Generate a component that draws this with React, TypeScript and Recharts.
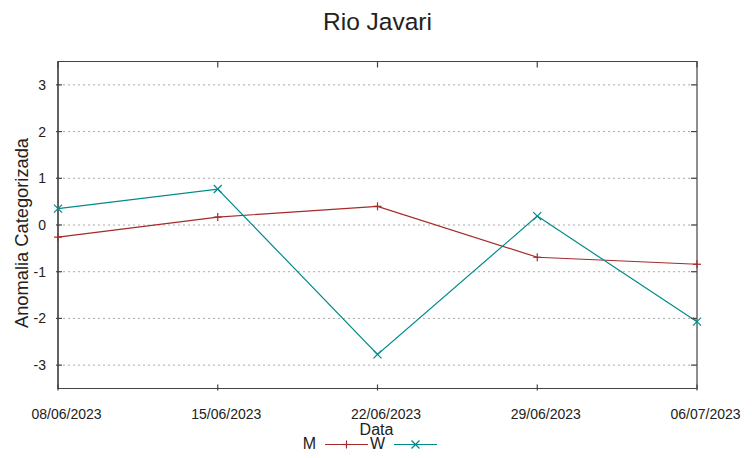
import { CartesianGrid, Line, LineChart, ReferenceArea, XAxis, YAxis } from "recharts";

const dates = ["08/06/2023", "15/06/2023", "22/06/2023", "29/06/2023", "06/07/2023"];
const mValues = [-0.26, 0.17, 0.4, -0.69, -0.84];
const wValues = [0.35, 0.77, -2.77, 0.19, -2.07];
const yTicks = [-3, -2, -1, 0, 1, 2, 3];
const yDomain = [-3.5, 3.5];

const RED = "#a52a2a";
const TEAL = "#008b8b";
const FRAME = "#444444";
const FONT = "'Liberation Sans', Arial, sans-serif";

const CHART_W = 752;
const CHART_H = 458;
const MARGIN = { top: 61.5, right: 55, bottom: 39.5, left: 0 };
const PLOT_TOP = MARGIN.top;
const PLOT_RIGHT = CHART_W - MARGIN.right;

const data = dates.map((d, i) => ({ date: d, M: mValues[i], W: wValues[i] }));

const PlusDot = (props: any) => {
  const { cx, cy } = props;
  if (cx == null || cy == null) return null;
  return (
    <g>
      <line x1={cx - 4} y1={cy} x2={cx + 4} y2={cy} stroke={RED} strokeWidth={1.2} />
      <line x1={cx} y1={cy - 4} x2={cx} y2={cy + 4} stroke={RED} strokeWidth={1.2} />
    </g>
  );
};

const CrossDot = (props: any) => {
  const { cx, cy } = props;
  if (cx == null || cy == null) return null;
  return (
    <g>
      <line x1={cx - 4} y1={cy - 4} x2={cx + 4} y2={cy + 4} stroke={TEAL} strokeWidth={1.2} />
      <line x1={cx - 4} y1={cy + 4} x2={cx + 4} y2={cy - 4} stroke={TEAL} strokeWidth={1.2} />
    </g>
  );
};

// inward ticks on bottom and mirrored on top
const BottomTick = (props: any) => {
  const { x, y, payload } = props;
  return (
    <g>
      <line x1={x} y1={y} x2={x} y2={y - 6} stroke={FRAME} strokeWidth={1.2} />
      <line x1={x} y1={PLOT_TOP} x2={x} y2={PLOT_TOP + 6} stroke={FRAME} strokeWidth={1.2} />
      <text x={x + 8.5} y={y + 28} textAnchor="middle" fontSize={14} fontFamily={FONT} fill="#222">
        {payload.value}
      </text>
    </g>
  );
};

const LeftTick = (props: any) => {
  const { x, y, payload } = props;
  return (
    <g>
      <line x1={x} y1={y} x2={x + 6} y2={y} stroke={FRAME} strokeWidth={1.2} />
      <line x1={PLOT_RIGHT} y1={y} x2={PLOT_RIGHT - 6} y2={y} stroke={FRAME} strokeWidth={1.2} />
      <text x={x - 10} y={y + 5} textAnchor="end" fontSize={14} fontFamily={FONT} fill="#222">
        {payload.value}
      </text>
    </g>
  );
};

const YLabel = (props: any) => {
  const { viewBox } = props;
  const cy = viewBox.y + viewBox.height / 2 + 8;
  return (
    <text
      x={28}
      y={cy}
      transform={`rotate(-90, 28, ${cy})`}
      textAnchor="middle"
      fontSize={18.3}
      fontFamily={FONT}
      fill="#222"
    >
      Anomalia Categorizada
    </text>
  );
};

const series = [
  { name: "M", color: RED, Dot: PlusDot },
  { name: "W", color: TEAL, Dot: CrossDot },
];

export default function App() {
  return (
    <div style={{ position: "absolute", left: 0, top: 0, width: CHART_W, height: CHART_H, background: "#fff" }}>
      <LineChart width={CHART_W} height={CHART_H} data={data} margin={MARGIN}>
        <CartesianGrid vertical={false} strokeDasharray="2 3" stroke="#aaaaaa" />
        <XAxis
          dataKey="date"
          height={30}
          stroke={FRAME}
          strokeWidth={1.2}
          tickLine={false}
          tickSize={0}
          tick={BottomTick}
          interval={0}
        />
        <YAxis
          width={58}
          domain={yDomain}
          ticks={yTicks}
          stroke={FRAME}
          strokeWidth={1.2}
          tickLine={false}
          tickSize={0}
          tick={LeftTick}
          label={{ content: YLabel }}
        />
        <ReferenceArea
          x1={dates[0]}
          x2={dates[dates.length - 1]}
          y1={yDomain[0]}
          y2={yDomain[1]}
          fill="none"
          fillOpacity={0}
          stroke={FRAME}
          strokeWidth={1.2}
          ifOverflow="visible"
        />
        {series.map((s) => (
          <Line
            key={s.name}
            dataKey={s.name}
            stroke={s.color}
            strokeWidth={1.2}
            dot={s.Dot}
            activeDot={false}
            isAnimationActive={false}
          />
        ))}
      </LineChart>
      <svg
        width={CHART_W}
        height={CHART_H}
        style={{ position: "absolute", left: 0, top: 0, pointerEvents: "none" }}
      >
        <text x={377.5} y={29.5} textAnchor="middle" fontSize={24.5} fontFamily={FONT} fill="#222">
          Rio Javari
        </text>
        <text x={376.5} y={435} textAnchor="middle" fontSize={16} fontFamily={FONT} fill="#222">
          Data
        </text>
        {series.map((s, i) => {
          const x0 = 316 + i * 69;
          const Dot = s.Dot;
          return (
            <g key={s.name}>
              <text x={x0} y={449} textAnchor="end" fontSize={16} fontFamily={FONT} fill="#222">
                {s.name}
              </text>
              <line x1={x0 + 9} y1={444.5} x2={x0 + 52} y2={444.5} stroke={s.color} strokeWidth={1.2} />
              <Dot cx={x0 + 30.5} cy={444.5} />
            </g>
          );
        })}
      </svg>
    </div>
  );
}
